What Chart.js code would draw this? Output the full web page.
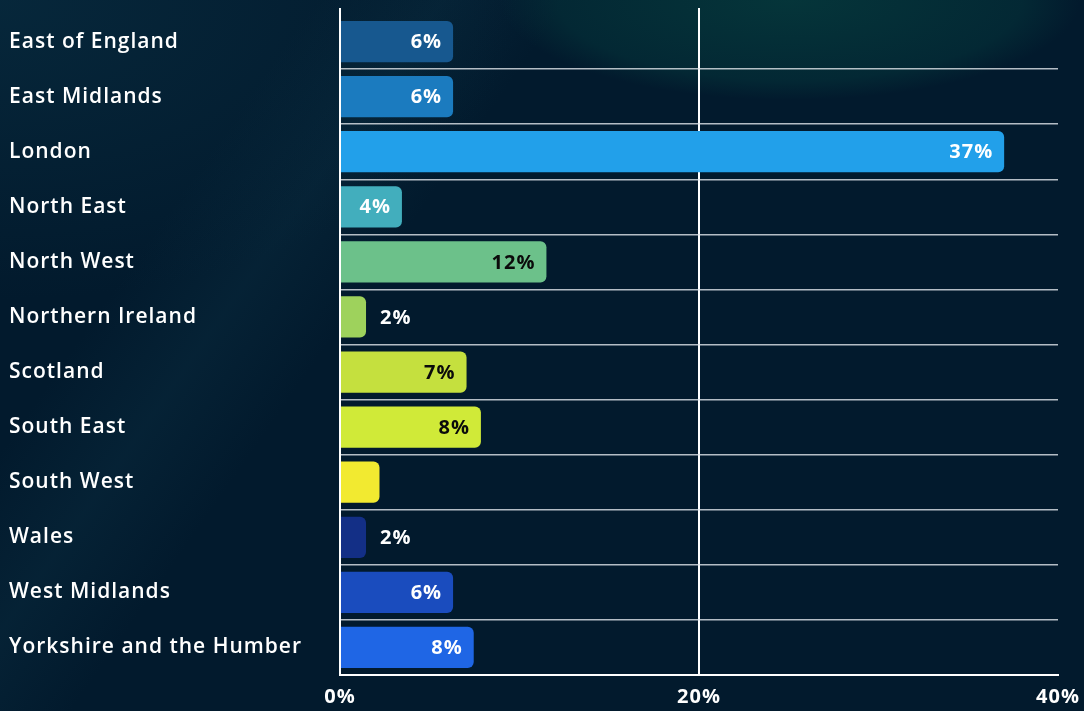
<!DOCTYPE html>
<html>
<head>
<meta charset="utf-8">
<script src="https://cdn.jsdelivr.net/npm/chart.js@4.4.1/dist/chart.umd.min.js"></script>
<style>
  html, body { margin: 0; padding: 0; }
  body {
    width: 1084px; height: 711px; overflow: hidden;
    background-color: #021a2d;
    background-image:
      radial-gradient(ellipse 290px 100px at 790px 0px, rgba(6,62,62,0.75) 0%, rgba(4,52,58,0.55) 80%, rgba(3,45,55,0) 100%),
      radial-gradient(ellipse 520px 300px at 0px 0px, rgba(10,50,70,0.55) 0%, rgba(5,35,55,0) 100%),
      linear-gradient(125deg, rgba(0,0,0,0) 20%, rgba(20,70,90,0.18) 28%, rgba(0,0,0,0) 36%);
  }
  #wrap { position: absolute; left: 0; top: 0; width: 1084px; height: 711px; }
</style>
</head>
<body>
<div id="wrap"><canvas id="c" width="1084" height="711"></canvas></div>
<script>
const categories = ["East of England", "East Midlands", "London", "North East", "North West", "Northern Ireland", "Scotland", "South East", "South West", "Wales", "West Midlands", "Yorkshire and the Humber"];
const values = [6.3, 6.3, 37.0, 3.45, 11.5, 1.45, 7.05, 7.85, 2.2, 1.45, 6.3, 7.45];
const valueLabels = ["6%", "6%", "37%", "4%", "12%", "2%", "7%", "8%", "", "2%", "6%", "8%"];
const barColors = ["#17588f", "#1b7bbf", "#22a0ea", "#42aebd", "#6cc18a", "#9ed25c", "#c5e03e", "#d0ea38", "#f2ea30", "#132f86", "#1a4cbe", "#1f66e5"];
const labelColors = ["#ffffff", "#ffffff", "#ffffff", "#ffffff", "#0b0b0b", "#ffffff", "#0b0b0b", "#0b0b0b", "#ffffff", "#ffffff", "#ffffff", "#ffffff"];
const xTicks = [0, 20, 40];

const FONT = "'Open Sans', 'Noto Sans', sans-serif";

const spacingPlugin = {
  id: 'spacing',
  beforeDraw(chart) { chart.ctx.letterSpacing = '1px'; },
  afterDraw(chart) { chart.ctx.letterSpacing = '0px'; }
};

const valueLabelPlugin = {
  id: 'valueLabels',
  afterDatasetsDraw(chart) {
    const ctx = chart.ctx;
    const meta = chart.getDatasetMeta(0);
    ctx.save();
    ctx.font = "700 20px " + FONT;
    ctx.textBaseline = 'middle';
    meta.data.forEach((bar, i) => {
      const txt = valueLabels[i];
      if (!txt) return;
      const w = bar.x - bar.base;
      if (w > 45) {
        ctx.textAlign = 'right';
        ctx.fillStyle = labelColors[i];
        ctx.fillText(txt, bar.x - 11, bar.y + 1);
      } else {
        ctx.textAlign = 'left';
        ctx.fillStyle = '#ffffff';
        ctx.fillText(txt, bar.x + 14, bar.y + 1);
      }
    });
    ctx.restore();
  }
};

const gridStubPlugin = {
  id: 'gridStub',
  afterDraw(chart) {
    const ctx = chart.ctx;
    const xs = chart.scales.x;
    const top = chart.chartArea.top;
    ctx.save();
    ctx.strokeStyle = '#ffffff';
    ctx.lineWidth = 2;
    [0, 20].forEach(v => {
      const px = Math.round(xs.getPixelForValue(v));
      ctx.beginPath();
      ctx.moveTo(px, top - 6);
      ctx.lineTo(px, top + 1);
      ctx.stroke();
    });
    ctx.restore();
  }
};

new Chart(document.getElementById('c'), {
  type: 'bar',
  data: {
    labels: categories,
    datasets: [{
      data: values,
      backgroundColor: barColors,
      borderRadius: 6,
      borderSkipped: 'start',
      categoryPercentage: 1.0,
      barPercentage: 0.75
    }]
  },
  options: {
    indexAxis: 'y',
    responsive: false,
    animation: false,
    devicePixelRatio: 1,
    layout: { padding: { left: 9, right: 26, top: 14, bottom: 0 } },
    plugins: { legend: { display: false }, tooltip: { enabled: false } },
    scales: {
      x: {
        min: 0, max: 40,
        afterBuildTicks(scale) { scale.ticks = xTicks.map(v => ({ value: v })); },
        afterFit(scale) { scale.height = 36; scale.paddingRight = 0; scale.paddingLeft = 0; },
        border: { display: true, color: '#ffffff', width: 2 },
        grid: {
          drawTicks: false,
          lineWidth: 2,
          color: (c) => (c.tick && c.tick.value === 20) ? '#ffffff' : 'rgba(0,0,0,0)'
        },
        ticks: {
          padding: 10,
          color: '#ffffff',
          font: { family: FONT, size: 20, weight: '700' },
          callback: (v) => v + '%'
        }
      },
      y: {
        afterFit(scale) { scale.width = 331; },
        border: { display: true, color: '#ffffff', width: 2 },
        grid: {
          offset: true,
          drawTicks: false,
          lineWidth: 1.5,
          color: (c) => c.index === 0 ? 'rgba(0,0,0,0)' : 'rgba(225,230,235,0.8)'
        },
        ticks: {
          crossAlign: 'far',
          padding: 0,
          color: '#ffffff',
          font: { family: FONT, size: 21, weight: '600' }
        }
      }
    }
  },
  plugins: [spacingPlugin, valueLabelPlugin, gridStubPlugin]
});
</script>
</body>
</html>
